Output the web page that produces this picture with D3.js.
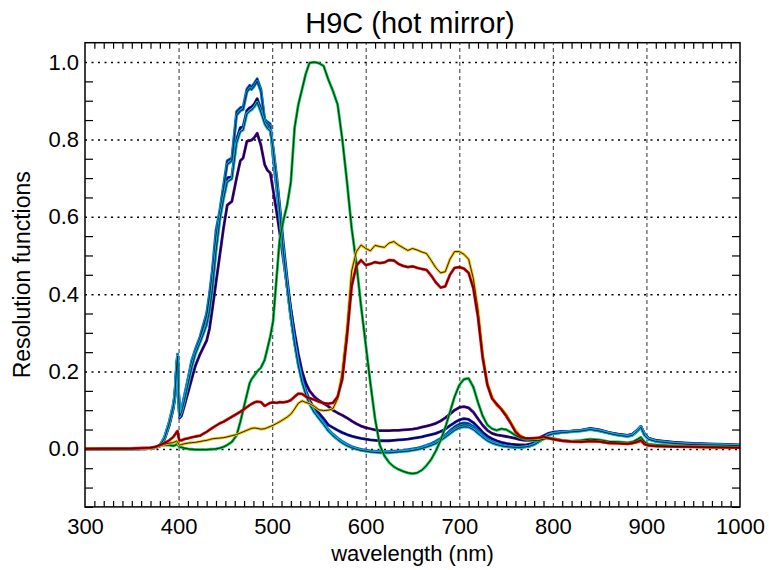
<!DOCTYPE html>
<html><head><meta charset="utf-8">
<script src="https://cdn.jsdelivr.net/npm/d3@7"></script>
<style>
body{margin:0;background:#fff;}
svg text{font-family:"Liberation Sans",Arial,Helvetica,sans-serif;fill:#000;}
</style></head>
<body><svg id="c" width="769" height="570"></svg>
<script>
const titleText = "H9C (hot mirror)";
const xLabel = "wavelength (nm)";
const yLabel = "Resolution functions";
const xTicks = [300,400,500,600,700,800,900,1000];
const yTicks = [0.0,0.2,0.4,0.6,0.8,1.0];

const wl = [300,350,370,375,380,385,390,394,396,398,399,400,401,
 403,406,410,414,418,423,427,430,433,436,440,444,448,452,457,462,466,469,473,476,478,
 481,484,488,492,495,498,501,505,508,512,516,520,524,528,532,536,540,545,
 550,555,560,565,570,575,580,585,590,595,600,605,610,615,620,625,630,635,640,
 645,650,655,660,665,670,675,680,685,690,695,700,705,710,715,720,725,730,735,740,
 745,750,755,760,765,770,775,780,785,790,795,800,810,820,830,840,850,860,870,880,885,890,894,898,902,910,930,950,975,1000];

const purple = [0,0,0.001,0.003,0.007,0.025,0.06,0.1,0.13,0.21,0.235,0.14,0.08,
 0.085,0.11,0.145,0.18,0.215,0.245,0.265,0.28,0.31,0.36,0.43,0.5,0.57,0.63,0.64,0.7,0.745,0.752,0.795,0.797,0.798,
 0.805,0.816,0.785,0.735,0.72,0.713,0.67,0.61,0.56,0.49,0.42,0.36,0.30,0.245,0.2,0.17,0.15,0.135,
 0.125,0.118,0.11,0.1,0.093,0.087,0.08,0.072,0.065,0.059,0.055,0.052,0.049,0.047,0.047,0.047,0.048,0.048,0.049,
 0.05,0.051,0.053,0.056,0.059,0.062,0.066,0.072,0.08,0.09,0.1,0.107,0.109,0.106,0.095,0.078,0.061,0.048,0.04,0.036,
 0.034,0.032,0.03,0.027,0.024,0.022,0.022,0.024,0.028,0.034,0.04,0.043,0.045,0.046,0.048,0.052,0.048,0.042,0.038,0.035,0.038,0.048,0.058,0.038,0.028,0.022,0.017,0.014,0.012,0.01];

const navy = [0,0,0.001,0.003,0.008,0.028,0.065,0.105,0.135,0.215,0.24,0.145,0.083,
 0.095,0.125,0.17,0.215,0.25,0.28,0.305,0.325,0.36,0.42,0.52,0.6,0.655,0.7,0.705,0.8,0.83,0.833,0.875,0.882,0.884,
 0.892,0.905,0.878,0.848,0.835,0.828,0.78,0.7,0.63,0.53,0.44,0.36,0.29,0.23,0.185,0.15,0.125,0.105,
 0.092,0.078,0.062,0.055,0.048,0.042,0.037,0.033,0.03,0.027,0.025,0.023,0.022,0.021,0.021,0.021,0.022,0.023,0.024,
 0.025,0.027,0.029,0.031,0.034,0.037,0.04,0.045,0.051,0.06,0.068,0.075,0.078,0.076,0.068,0.056,0.043,0.033,0.026,0.021,
 0.017,0.014,0.012,0.011,0.01,0.01,0.012,0.016,0.022,0.03,0.037,0.041,0.044,0.046,0.048,0.053,0.049,0.042,0.037,0.034,0.037,0.047,0.058,0.037,0.027,0.021,0.016,0.013,0.011,0.009];

const blue = [0,0,0.001,0.003,0.009,0.03,0.07,0.11,0.14,0.22,0.245,0.15,0.085,
 0.1,0.135,0.18,0.228,0.258,0.29,0.325,0.35,0.4,0.46,0.565,0.615,0.68,0.745,0.752,0.872,0.882,0.884,0.93,0.94,0.936,
 0.945,0.957,0.93,0.852,0.845,0.84,0.755,0.67,0.6,0.5,0.42,0.34,0.275,0.22,0.178,0.145,0.12,0.098,
 0.082,0.067,0.05,0.038,0.028,0.019,0.012,0.006,0.002,-0.001,-0.003,-0.005,-0.006,-0.007,-0.007,-0.007,-0.006,-0.005,-0.004,
 -0.002,0.0,0.002,0.005,0.009,0.014,0.02,0.027,0.036,0.047,0.057,0.064,0.067,0.065,0.058,0.047,0.035,0.025,0.018,0.013,
 0.01,0.007,0.005,0.004,0.004,0.005,0.007,0.012,0.019,0.028,0.036,0.04,0.043,0.045,0.047,0.051,0.047,0.041,0.036,0.033,0.036,0.046,0.057,0.036,0.026,0.02,0.015,0.012,0.01,0.009];

const light = [0,0,0.001,0.003,0.009,0.03,0.069,0.109,0.139,0.22,0.244,0.15,0.085,
 0.098,0.132,0.177,0.224,0.255,0.287,0.32,0.345,0.392,0.45,0.55,0.61,0.672,0.735,0.745,0.862,0.874,0.877,0.922,0.932,0.929,
 0.938,0.95,0.924,0.848,0.84,0.835,0.76,0.675,0.605,0.505,0.42,0.342,0.275,0.22,0.176,0.143,0.118,0.096,
 0.08,0.065,0.048,0.036,0.026,0.017,0.01,0.004,0.0,-0.003,-0.005,-0.006,-0.007,-0.008,-0.008,-0.008,-0.008,-0.007,-0.006,
 -0.004,-0.002,0.0,0.003,0.007,0.012,0.017,0.024,0.033,0.043,0.052,0.059,0.062,0.061,0.054,0.044,0.032,0.023,0.016,0.012,
 0.009,0.006,0.005,0.004,0.004,0.005,0.007,0.012,0.019,0.028,0.036,0.04,0.043,0.045,0.047,0.051,0.047,0.041,0.036,0.033,0.036,0.046,0.057,0.036,0.026,0.02,0.015,0.012,0.01,0.009];

const cyan = [0,0,0.001,0.003,0.008,0.028,0.066,0.106,0.136,0.216,0.24,0.146,0.084,
 0.094,0.122,0.166,0.21,0.245,0.275,0.3,0.32,0.355,0.41,0.51,0.59,0.645,0.69,0.698,0.79,0.82,0.824,0.866,0.873,0.876,
 0.884,0.896,0.87,0.84,0.828,0.822,0.775,0.69,0.615,0.51,0.42,0.34,0.272,0.215,0.172,0.14,0.115,0.094,
 0.078,0.063,0.046,0.034,0.024,0.015,0.008,0.003,-0.001,-0.004,-0.006,-0.008,-0.009,-0.01,-0.01,-0.01,-0.009,-0.008,-0.007,
 -0.006,-0.004,-0.002,0.001,0.005,0.009,0.014,0.021,0.03,0.039,0.048,0.054,0.057,0.056,0.05,0.04,0.03,0.021,0.015,0.011,
 0.008,0.006,0.005,0.004,0.004,0.005,0.007,0.011,0.018,0.027,0.035,0.039,0.042,0.044,0.046,0.05,0.046,0.04,0.035,0.032,0.035,0.045,0.056,0.035,0.025,0.019,0.014,0.011,0.01,0.008];

const green = [0,0,0.002,0.004,0.008,0.01,0.01,0.008,0.009,0.012,0.013,0.008,0.005,
 0.004,0.002,0.0,-0.001,-0.002,-0.002,-0.002,-0.002,-0.001,-0.001,0.0,0.002,0.005,0.01,0.018,0.035,0.07,0.10,0.14,0.17,0.18,
 0.19,0.2,0.21,0.23,0.26,0.29,0.33,0.45,0.54,0.59,0.63,0.69,0.83,0.89,0.93,0.97,0.998,1.0,
 0.997,0.99,0.955,0.925,0.89,0.80,0.69,0.57,0.48,0.37,0.27,0.17,0.078,0.01,-0.018,-0.035,-0.046,-0.053,-0.058,
 -0.062,-0.064,-0.062,-0.055,-0.043,-0.027,-0.005,0.022,0.055,0.095,0.135,0.165,0.18,0.182,0.16,0.12,0.085,0.062,0.052,0.048,
 0.052,0.05,0.043,0.035,0.029,0.025,0.023,0.022,0.022,0.025,0.029,0.027,0.022,0.02,0.022,0.025,0.023,0.019,0.018,0.016,0.018,0.024,0.03,0.018,0.012,0.01,0.008,0.006,0.005,0.004];

const gold = [0,0,0.002,0.004,0.008,0.012,0.015,0.016,0.018,0.02,0.018,0.012,0.01,
 0.011,0.013,0.015,0.016,0.017,0.019,0.021,0.022,0.024,0.026,0.027,0.028,0.029,0.031,0.034,0.037,0.041,0.044,0.048,0.051,0.053,
 0.054,0.053,0.051,0.052,0.055,0.058,0.061,0.066,0.07,0.076,0.082,0.09,0.103,0.118,0.124,0.12,0.117,0.11,
 0.101,0.099,0.1,0.104,0.13,0.2,0.31,0.46,0.51,0.527,0.518,0.512,0.526,0.523,0.521,0.532,0.536,0.527,0.52,
 0.513,0.518,0.514,0.509,0.505,0.487,0.468,0.455,0.458,0.49,0.51,0.51,0.503,0.49,0.44,0.36,0.245,0.17,0.135,0.112,
 0.104,0.09,0.068,0.048,0.035,0.028,0.027,0.027,0.028,0.03,0.028,0.025,0.021,0.019,0.018,0.02,0.019,0.015,0.014,0.013,0.014,0.017,0.021,0.012,0.009,0.007,0.006,0.005,0.004,0.003];

const red = [0,0.001,0.003,0.005,0.01,0.015,0.022,0.03,0.036,0.044,0.046,0.03,0.022,
 0.022,0.025,0.027,0.03,0.032,0.034,0.04,0.044,0.049,0.054,0.06,0.066,0.07,0.076,0.083,0.09,0.096,0.101,0.108,0.113,0.116,
 0.12,0.122,0.121,0.111,0.115,0.119,0.12,0.119,0.121,0.12,0.122,0.126,0.135,0.143,0.142,0.135,0.131,0.127,
 0.122,0.118,0.117,0.119,0.135,0.18,0.29,0.42,0.473,0.488,0.475,0.478,0.483,0.48,0.482,0.488,0.487,0.478,0.473,
 0.47,0.472,0.468,0.465,0.463,0.448,0.43,0.417,0.42,0.45,0.468,0.47,0.466,0.455,0.415,0.34,0.235,0.165,0.13,0.116,
 0.102,0.085,0.066,0.044,0.032,0.028,0.027,0.028,0.029,0.031,0.028,0.025,0.021,0.019,0.018,0.02,0.019,0.015,0.014,0.013,0.015,0.018,0.022,0.012,0.009,0.007,0.006,0.005,0.004,0.003];

const seriesList = [
  {name:"purple", values:purple, color:"#420096"},
  {name:"navy", values:navy, color:"#1010b4"},
  {name:"blue", values:blue, color:"#0060d0"},
  {name:"light", values:light, color:"#0090e0"},
  {name:"cyan", values:cyan, color:"#10b4dc"},
  {name:"green", values:green, color:"#00c040"},
  {name:"gold", values:gold, color:"#f0c000"},
  {name:"red", values:red, color:"#e00000"}
];

const L = 85, R = 740, T = 42.7, B = 506.9;
const svg = d3.select("#c");
const x = d3.scaleLinear().domain([300,1000]).range([L,R]);
const y = d3.scaleLinear().domain([-0.15,1.05]).range([B,T]);

svg.append("defs").append("clipPath").attr("id","clip")
  .append("rect").attr("x",L).attr("y",T).attr("width",R-L).attr("height",B-T);

const xMinor = d3.range(310,1000,10).filter(v => v % 100 !== 0);
const yMinor = d3.range(-3,21).map(i => +(i*0.05).toFixed(2)).filter(v => Math.abs(v*5 - Math.round(v*5)) > 1e-6);

// vertical dashed grid
svg.append("g").attr("transform",`translate(0,${B})`)
  .call(d3.axisBottom(x).tickValues(xTicks.slice(1,-1)).tickSize(-(B-T)).tickFormat(""))
  .call(g => g.select(".domain").remove())
  .call(g => g.selectAll("line").attr("stroke","#555").attr("stroke-width",1.2).attr("stroke-dasharray","4,3"));

// horizontal dotted grid
svg.append("g").attr("transform",`translate(${L},0)`)
  .call(d3.axisLeft(y).tickValues(yTicks).tickSize(-(R-L)).tickFormat(""))
  .call(g => g.select(".domain").remove())
  .call(g => g.selectAll("line").attr("stroke","#000").attr("stroke-width",1.5).attr("stroke-dasharray","2,4.5"));

// lines
const line = d3.line().x((d,i)=>x(wl[i])).y(d=>y(d));
const lg = svg.append("g").attr("clip-path","url(#clip)");
seriesList.forEach(s => {
  lg.append("path").datum(s.values).attr("d",line)
    .attr("fill","none").attr("stroke",s.color).attr("stroke-width",2.8).attr("stroke-linejoin","round");
  lg.append("path").datum(s.values).attr("d",line)
    .attr("fill","none").attr("stroke","#000").attr("stroke-width",0.8).attr("stroke-linejoin","round");
});

// minor ticks
const styleTicks = g => { g.select(".domain").remove(); g.selectAll("line").attr("stroke","#000").attr("stroke-width",1.2); };
svg.append("g").attr("transform",`translate(0,${B})`)
  .call(d3.axisBottom(x).tickValues(xMinor).tickSize(-6).tickFormat("")).call(styleTicks);
svg.append("g").attr("transform",`translate(0,${T})`)
  .call(d3.axisTop(x).tickValues(xMinor).tickSize(-6).tickFormat("")).call(styleTicks);
svg.append("g").attr("transform",`translate(${L},0)`)
  .call(d3.axisLeft(y).tickValues(yMinor).tickSize(-8).tickFormat("")).call(styleTicks);
svg.append("g").attr("transform",`translate(${R},0)`)
  .call(d3.axisRight(y).tickValues(yMinor).tickSize(-8).tickFormat("")).call(styleTicks);

// tick labels
svg.append("g").attr("transform",`translate(0,${B})`)
  .call(d3.axisBottom(x).tickValues(xTicks).tickSize(0).tickPadding(11).tickFormat(d3.format("d")))
  .call(g => g.select(".domain").remove())
  .call(g => g.selectAll("text").style("font-size","22px").attr("font-family",null));
svg.append("g").attr("transform",`translate(${L},0)`)
  .call(d3.axisLeft(y).tickValues(yTicks).tickSize(0).tickPadding(6).tickFormat(d3.format(".1f")))
  .call(g => g.select(".domain").remove())
  .call(g => g.selectAll("text").style("font-size","22px").attr("font-family",null));

// frame
svg.append("rect").attr("x",L).attr("y",T).attr("width",R-L).attr("height",B-T)
  .attr("fill","none").attr("stroke","#000").attr("stroke-width",1.5);

svg.append("text").attr("x",410).attr("y",33).attr("text-anchor","middle").style("font-size","29px").text(titleText);
svg.append("text").attr("x",(L+R)/2).attr("y",561).attr("text-anchor","middle").style("font-size","22px").text(xLabel);
svg.append("text").attr("transform",`translate(30,${(T+B)/2}) rotate(-90)`).attr("text-anchor","middle").style("font-size","23px").text(yLabel);
</script></body></html>
